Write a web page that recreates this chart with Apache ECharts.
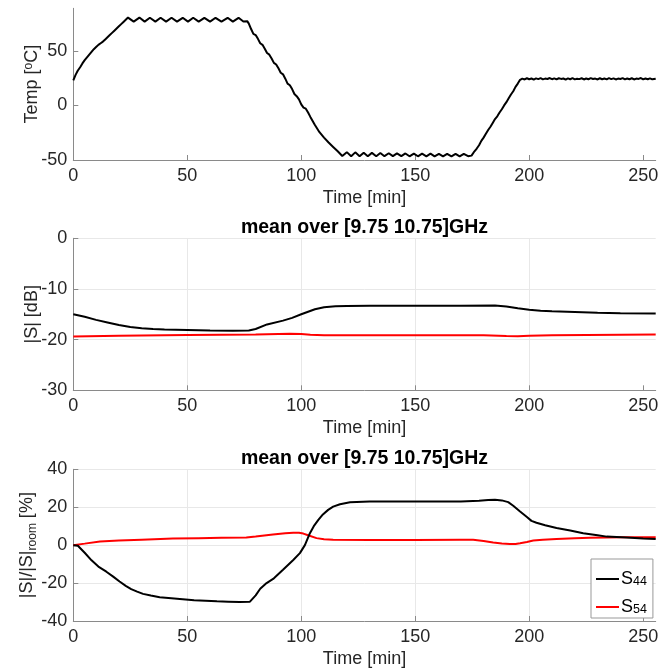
<!DOCTYPE html>
<html>
<head>
<meta charset="utf-8">
<script src="https://cdn.jsdelivr.net/npm/echarts@6/dist/echarts.min.js"></script>
<style>html,body{margin:0;padding:0;background:#fff}#c{width:670px;height:671px}</style>
</head>
<body>
<div id="c"></div>
<script>
// ---------- data ----------
const xTicks = [0, 50, 100, 150, 200, 250];
const tempTicks = [-50, 0, 50];
const titleText = 'mean over [9.75 10.75]GHz';
const legendNames = ['S44', 'S54'];

// Temperature [°C] vs time [min]
const temp = [
 [0,23],[1,28],[2,32],[3,35],[4,38.5],[5,41.5],[6,44],[7,46.5],[8,49],[9,51.5],[10,53.5],[11,55.5],[12,57],[13,58.5],[14,60.5],[15,62.5],[16,64.5],[17,66.5],[18,68.5],[19,70.5],[20,72.5],[21,74.5],[22,76.5],[23,78.5],
 [24,80.5],[26.5,76.8],[29,80.5],[31.3,76.8],[33.6,80.3],[36,76.8],[38.3,80.3],[40.7,76.8],[43.1,80.3],[45.5,76.8],[48,80.3],[50.3,76.8],[52.6,80.3],[55,76.8],[57.5,80.3],[60,76.8],[62.4,80.3],[65,76.8],[67.7,80.3],[70,76.8],[72.5,80.3],[74.6,76.9],[76.3,77.2],
 [77,75],[78,70],[79,65.5],[80,64.5],[81,61],[82,57],[83,55.5],[84,52],[85,48],[86,46.5],[87,43],[88,39],[89,37.5],[90,34],[91,30],[92,28.5],[93,24.5],[94,20],[95,18.5],[96,15],[97,10.5],[98,8.5],[99,5.5],[100,1],[101,-2],[102,-3],[103,-6.5],[104,-10.5],[106,-18],[108,-24.5],[110,-29.5],[112,-34],[114,-38],[116,-42],
 [118,-46.3],[120,-42.8],[121.9,-46.5],[123.7,-43.0],[125.6,-46.5],[127.4,-43.3],[129.2,-46.5],[131,-43.5],[132.9,-46.5],[134.7,-43.6],[136.5,-46.5],[138.4,-43.8],[140.2,-46.5],[142,-43.9],[143.9,-46.5],[145.7,-44],[147.5,-46.6],[149.4,-44.1],[151.2,-46.6],[153,-44.2],[154.9,-46.6],[156.7,-44.2],[158.5,-46.6],[160.4,-44.3],[162.2,-46.6],[164,-44.3],[165.9,-46.6],[167.7,-44.3],[169.5,-46.6],[171.3,-44.3],[173.2,-46.5],[174.7,-46],
 [176,-42],[177,-39.5],[178,-36.5],[179,-32.5],[180,-29.5],[181,-26],[182,-22.5],[183,-19.5],[184,-16],[185,-12.5],[186,-10],[187,-6.5],[188,-3.5],[189,0],[190,3],[191,6.5],[192,10],[193,13],[194,17],[195,20],
 [196,23.5],[197,24.6],[198,23.8],[199,24.9],[200,24.0],[201,24.7],[202,23.7],[203,24.8],[204,24.1],[205,25.0],[206,23.9],[207,24.6],[208,24.2],[209,25.1],[210,24.0],[211,24.8],[212,23.8],[213,24.9],[214,24.3],[215,24.7],[216,23.7],[217,24.8],[218,24.0],[219,25.0],[220,23.9],[221,24.5],[222,24.1],[223,24.9],[224,23.8],[225,24.7],[226,24.0],[227,25.0],[228,24.2],[229,24.6],[230,23.8],[231,24.9],[232,24.0],[233,24.7],[234,23.9],[235,25.0],[236,24.1],[237,24.8],[238,23.8],[239,24.6],[240,24.2],[241,25.0],[242,23.9],[243,24.7],[244,24.0],[245,24.9],[246,23.8],[247,24.6],[248,24.3],[249,25.1],[250,23.9],[251,24.7],[252,24.0],[253,24.8],[254,23.9],[255.5,24.5]
];

// |S| [dB]
const s44dB = [
 [0,-15],[5,-15.5],[10,-16.1],[15,-16.6],[20,-17.1],[25,-17.5],[30,-17.75],[35,-17.9],[40,-18],[50,-18.1],[60,-18.2],[70,-18.25],[77,-18.2],[80,-17.9],[85,-17.0],[92,-16.25],[96,-15.7],[100,-15.0],[103,-14.5],[106,-14.0],[110,-13.6],[115,-13.4],[120,-13.35],[130,-13.3],[150,-13.3],[170,-13.3],[185,-13.25],[190,-13.45],[195,-13.8],[200,-14.1],[205,-14.3],[210,-14.4],[220,-14.55],[230,-14.7],[240,-14.8],[255.5,-14.85]
];
const s54dB = [
 [0,-19.4],[20,-19.25],[50,-19.1],[80,-19.0],[95,-18.85],[100,-18.9],[104,-19.05],[110,-19.15],[180,-19.15],[190,-19.3],[195,-19.35],[200,-19.25],[210,-19.15],[255.5,-19.0]
];

// |S|/|S|room [%]
const s44pct = [
 [0,0],[2,-0.3],[5,-4],[8,-8],[11,-11.3],[14.5,-14],[17.5,-16.6],[20.3,-19.2],[23,-21.5],[25.4,-23.2],[28,-24.5],[30.6,-25.7],[34,-26.6],[37.9,-27.5],[43,-28],[48,-28.5],[53,-29],[58,-29.3],[63,-29.6],[68,-29.8],[73,-30],[77.5,-29.8],[80,-26.5],[82,-23],[84.8,-20],[88,-17.5],[92,-13],[96.5,-7.8],[99.4,-4.2],[101.6,0],[103.8,6.3],[105.5,10],[107.5,13.3],[109.5,16.2],[111.8,18.6],[114,20.3],[117,21.6],[121.4,22.6],[130,23],[150,23],[170,23],[178,23.4],[182,23.8],[185,24.0],[188,23.6],[190.8,22.7],[193,20.8],[196,17.7],[199,14.8],[201,12.8],[203.2,11.8],[207,10.5],[212,9],[218,7.7],[223.7,6.3],[230,5.2],[234,4.5],[242.7,4],[250,3.5],[255.5,3.3]
];
const s54pct = [
 [0,0],[5,0.8],[11.7,1.9],[20,2.4],[30,2.9],[43.7,3.5],[55,3.7],[65,3.9],[75.9,4.0],[80,4.5],[87.6,5.6],[93,6.3],[96.5,6.6],[99,6.5],[100.9,6.1],[103,5.2],[106.7,3.7],[110,3.1],[114,2.8],[130,2.7],[150,2.7],[169.6,2.8],[175.4,2.8],[180,2.2],[184.2,1.4],[188,0.9],[191.5,0.6],[194,0.6],[196,1],[199,1.7],[201.8,2.4],[206,2.9],[212,3.3],[220,3.7],[226.6,3.9],[241.2,4.2],[255.5,4.2]
];

// ---------- chart ----------
const FONT = 'Liberation Sans, Arial, Helvetica, sans-serif';
const TXT = '#262626';
const AX = '#8a8a8a';
const GRIDC = '#e8e8e8';
const L = 73.3, W = 582.4;

function xAxis(gi, grid) {
  return {
    type: 'value', gridIndex: gi, min: 0, max: 255.5, interval: 50,
    name: 'Time [min]', nameLocation: 'middle', nameGap: 29, nameMoveOverlap: false,
    nameTextStyle: {fontSize: 18, color: TXT, fontFamily: FONT},
    axisLine: {show: true, onZero: false, lineStyle: {color: AX, width: 1}},
    axisTick: {show: true, inside: true, length: 5, lineStyle: {color: AX}, customValues: xTicks},
    axisLabel: {fontSize: 18, color: TXT, fontFamily: FONT, margin: 7, customValues: xTicks},
    splitLine: {show: grid, showMaxLine: false, lineStyle: {color: GRIDC, width: 1}}
  };
}
function yAxis(gi, o) {
  return Object.assign({
    type: 'value', gridIndex: gi,
    nameLocation: 'middle', nameRotate: 90, nameGap: 32, nameMoveOverlap: false,
    nameTextStyle: {fontSize: 18, color: TXT, fontFamily: FONT},
    axisLine: {show: true, onZero: false, lineStyle: {color: AX, width: 1}},
    axisTick: {show: true, inside: true, length: 5, lineStyle: {color: AX}},
    axisLabel: {fontSize: 18, color: TXT, fontFamily: FONT, margin: 6},
    splitLine: {show: true, lineStyle: {color: GRIDC, width: 1}}
  }, o);
}

const chart = echarts.init(document.getElementById('c'), null, {renderer: 'canvas'});
const option = {
  animation: false,
  backgroundColor: '#fff',
  textStyle: {fontFamily: FONT},
  title: [
    {text: titleText, left: 364.5, top: 218, textAlign: 'center', padding: 0,
     textStyle: {fontSize: 19.5, fontWeight: 'bold', color: '#000', fontFamily: FONT}},
    {text: titleText, left: 364.5, top: 448.5, textAlign: 'center', padding: 0,
     textStyle: {fontSize: 19.5, fontWeight: 'bold', color: '#000', fontFamily: FONT}}
  ],
  grid: [
    {left: L, top: 8.3, width: W, height: 151.7},
    {left: L, top: 238.3, width: W, height: 152},
    {left: L, top: 469.3, width: W, height: 151.7}
  ],
  xAxis: [xAxis(0, false), xAxis(1, true), xAxis(2, true)],
  yAxis: [
    yAxis(0, {min: -50, max: 89, interval: 50, nameGap: 31,
      name: 'Temp [{sup|o}C]',
      nameTextStyle: {fontSize: 18, color: TXT, fontFamily: FONT,
        rich: {sup: {fontSize: 12, color: TXT, fontFamily: FONT, verticalAlign: 'top', padding: [0, 0, 8, 0]}}},
      axisTick: {show: true, inside: true, length: 5, lineStyle: {color: AX}, customValues: tempTicks},
      axisLabel: {fontSize: 18, color: TXT, fontFamily: FONT, margin: 6, customValues: tempTicks},
      splitLine: {show: false}}),
    yAxis(1, {min: -30, max: 0, interval: 10, name: '|S| [dB]', nameGap: 32}),
    yAxis(2, {min: -40, max: 40, interval: 20, nameGap: 35,
      name: '|S|/|S|{sub|room} [%]',
      nameTextStyle: {fontSize: 18, color: TXT, fontFamily: FONT,
        rich: {sub: {fontSize: 12, color: TXT, fontFamily: FONT, verticalAlign: 'bottom', padding: [10, 0, 0, 0]}}}})
  ],
  legend: {
    show: true, orient: 'vertical', left: 591, top: 559,
    data: legendNames, padding: [2, 6, 2, 4], itemGap: 1,
    itemWidth: 23, itemHeight: 14, itemStyle: {opacity: 0},
    backgroundColor: '#fff', borderColor: '#999', borderWidth: 1, borderRadius: 0,
    formatter: function (n) { return '{s|S}{sub|' + n.slice(1) + '}'; },
    textStyle: {color: '#000', fontFamily: FONT, padding: [0,0,0,-3],
      rich: {
        s: {fontSize: 18, color: '#000', fontFamily: FONT, verticalAlign: 'top', lineHeight: 18},
        sub: {fontSize: 12.5, color: '#000', fontFamily: FONT, verticalAlign: 'bottom', lineHeight: 12, padding: [14, 0, 0, 0]}
      }}
  },
  series: [
    {type: 'line', name: 'Temp', xAxisIndex: 0, yAxisIndex: 0, data: temp, showSymbol: false, symbol: 'none',
     lineStyle: {color: '#000', width: 2}, itemStyle: {color: '#000'}},
    {type: 'line', name: 'S44 dB', xAxisIndex: 1, yAxisIndex: 1, data: s44dB, showSymbol: false, symbol: 'none',
     lineStyle: {color: '#000', width: 2}, itemStyle: {color: '#000'}},
    {type: 'line', name: 'S54 dB', xAxisIndex: 1, yAxisIndex: 1, data: s54dB, showSymbol: false, symbol: 'none',
     lineStyle: {color: '#ff0000', width: 2}, itemStyle: {color: '#ff0000'}},
    {type: 'line', name: 'S54', xAxisIndex: 2, yAxisIndex: 2, data: s54pct, showSymbol: false, symbol: 'none',
     lineStyle: {color: '#ff0000', width: 2}, itemStyle: {color: '#ff0000'}},
    {type: 'line', name: 'S44', xAxisIndex: 2, yAxisIndex: 2, data: s44pct, showSymbol: false, symbol: 'none',
     lineStyle: {color: '#000', width: 2}, itemStyle: {color: '#000'}}
  ]
};
chart.setOption(option);
</script>
</body>
</html>
